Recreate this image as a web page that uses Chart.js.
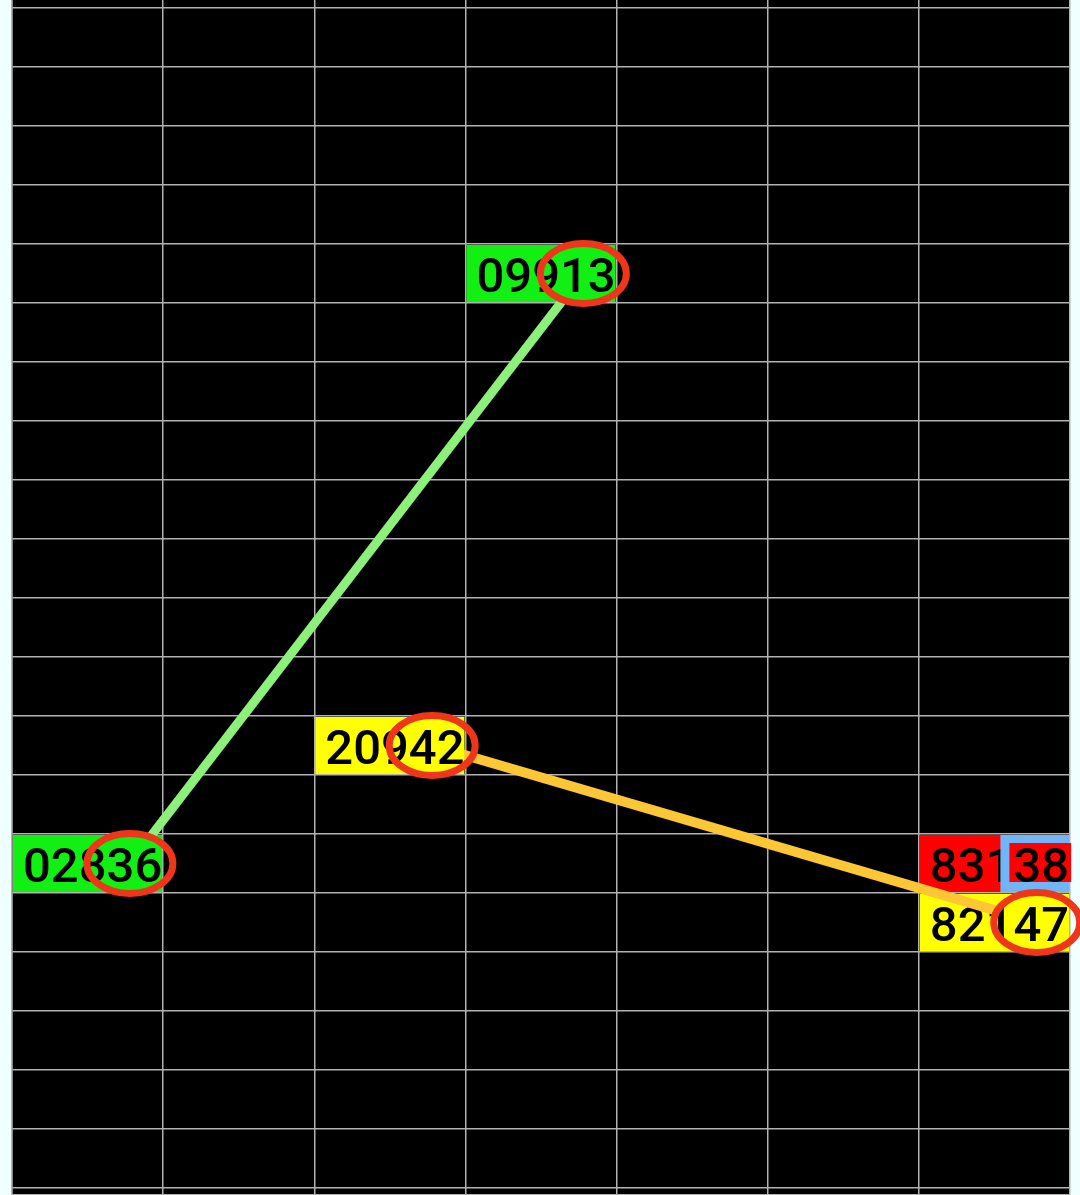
<!DOCTYPE html>
<html>
<head>
<meta charset="utf-8">
<script src="https://cdn.jsdelivr.net/npm/chart.js@4/dist/chart.umd.min.js"></script>
<style>
  html, body { margin: 0; padding: 0; background: #f0ffff; }
  canvas { display: block; }
</style>
</head>
<body>
<canvas id="drawChart" width="1080" height="1195"></canvas>
<script>
// Draw grid: 7 columns x 20 rows, rows counted from the top
const columnCount = 7;
const rowCount = 20;

// Marked cells
const cellNumbers = ['02836', '09913', '20942', '83138', '82147'];
const cellCols = [0, 3, 2, 6, 6];
const cellRows = [14, 4, 12, 14, 15];
const cellKinds = ['green', 'green', 'yellow', 'red', 'yellow'];
const cellMarks = ['circle', 'circle', 'circle', 'box', 'circle'];

// Lines joining two cells (indexes into the arrays above)
const greenLink = [0, 1];
const yellowLink = [2, 4];

const fills = { green: '#12ef12', yellow: '#ffff00', red: '#ff0000' };
const MARK_X = 0.78; // where the last two digits sit inside a cell

function linkPoints(link) {
    return link.map(i => ({ x: cellCols[i] + MARK_X, y: cellRows[i] + 0.5 }));
}

function cellRect(chart, i) {
    const sx = chart.scales.x, sy = chart.scales.y;
    const left = sx.getPixelForValue(cellCols[i]) + 1;
    const right = sx.getPixelForValue(cellCols[i] + 1) - 1;
    const top = sy.getPixelForValue(cellRows[i]) + 1;
    const bottom = sy.getPixelForValue(cellRows[i] + 1) - 1;
    return { left, right, top, bottom, w: right - left, h: bottom - top };
}

function drawCell(ctx, r, i) {
    ctx.fillStyle = fills[cellKinds[i]];
    ctx.fillRect(r.left, r.top, r.w, r.h);
    ctx.fillStyle = '#000';
    ctx.font = '500 49px Roboto';
    ctx.textAlign = 'left';
    ctx.textBaseline = 'alphabetic';
    ctx.fillText(cellNumbers[i], r.left + 10, r.top + r.h / 2 + 18);
}

function ellipsePath(ctx, chart, i) {
    const cx = chart.scales.x.getPixelForValue(cellCols[i] + MARK_X);
    const cy = chart.scales.y.getPixelForValue(cellRows[i] + 0.5);
    ctx.beginPath();
    ctx.ellipse(cx, cy, 43, 30, 0, 0, Math.PI * 2);
}

const cellPlugin = {
    id: 'cells',
    beforeDraw(chart) {
        const { ctx, chartArea: a } = chart;
        ctx.save();
        ctx.fillStyle = '#000';
        ctx.fillRect(a.left, a.top, a.right - a.left, a.bottom - a.top);
        ctx.restore();
    },
    beforeDatasetsDraw(chart) {
        const ctx = chart.ctx;
        ctx.save();
        cellNumbers.forEach((num, i) => {
            const r = cellRect(chart, i);
            drawCell(ctx, r, i);
            if (cellMarks[i] === 'box') {
                const head = num.slice(0, 3), tail = num.slice(3);
                const tx = r.left + 10 + ctx.measureText(head).width;
                const tw = ctx.measureText(tail).width;
                ctx.fillStyle = '#72b4f8';
                ctx.fillRect(tx - 13, r.top, r.right - tx + 13, r.h);
                ctx.fillStyle = fills.red;
                ctx.fillRect(tx - 4, r.top + 8, tw + 6, r.h - 18);
                ctx.fillStyle = '#000';
                ctx.fillText(tail, tx, r.top + r.h / 2 + 18);
            }
        });
        ctx.restore();
    },
    afterDatasetsDraw(chart) {
        const ctx = chart.ctx;
        cellNumbers.forEach((num, i) => {
            if (cellMarks[i] !== 'circle') return;
            const r = cellRect(chart, i);
            // keep lines out of the circled digits
            ctx.save();
            ctx.beginPath();
            ctx.rect(r.left, r.top, r.w, r.h);
            ctx.clip();
            ellipsePath(ctx, chart, i);
            ctx.clip();
            drawCell(ctx, r, i);
            ctx.restore();

            ctx.save();
            ellipsePath(ctx, chart, i);
            ctx.strokeStyle = '#f0361a';
            ctx.lineWidth = 7;
            ctx.stroke();
            ctx.restore();
        });
    }
};

const gridStyle = { color: '#b2b2b2', lineWidth: 1.5, drawTicks: false };

new Chart(document.getElementById('drawChart'), {
    type: 'line',
    data: {
        datasets: [{
            data: linkPoints(greenLink),
            borderColor: '#8cf07a',
            borderWidth: 9,
            pointRadius: 0
        }, {
            data: linkPoints(yellowLink),
            borderColor: '#fcc634',
            borderWidth: 10,
            pointRadius: 0
        }]
    },
    options: {
        responsive: false,
        animation: false,
        devicePixelRatio: 1,
        layout: { padding: { left: 12, right: 10, top: 0, bottom: 0 } },
        plugins: {
            legend: { display: false },
            tooltip: { enabled: false }
        },
        scales: {
            x: {
                type: 'linear',
                min: 0,
                max: columnCount,
                ticks: { display: false, stepSize: 1 },
                grid: gridStyle,
                border: { color: '#b2b2b2', width: 1.5 }
            },
            y: {
                type: 'linear',
                reverse: true,
                min: -8 / 59,
                max: rowCount + 7 / 59,
                ticks: { display: false, stepSize: 1, includeBounds: false },
                grid: gridStyle,
                border: { color: '#b2b2b2', width: 1.5 }
            }
        }
    },
    plugins: [cellPlugin]
});
</script>
</body>
</html>
